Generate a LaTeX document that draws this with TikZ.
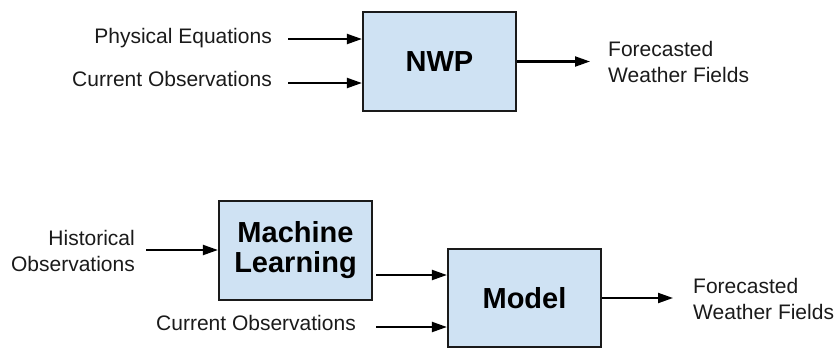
\documentclass[tikz,border=0pt]{standalone}
\usepackage{fontspec}
\setmainfont{Liberation Sans}
\usetikzlibrary{arrows.meta}
\definecolor{boxfill}{HTML}{CFE2F3}
\definecolor{ink}{HTML}{1A1A1A}
\begin{document}
\begin{tikzpicture}[x=1pt,y=-1pt,
  procbox/.style={draw=ink, line width=2.2pt, fill=boxfill, minimum width=153pt, minimum height=99pt, inner sep=0pt, align=center, font=\fontsize{29}{31}\selectfont\bfseries, text=black},
  lbl/.style={inner sep=0pt, font=\fontsize{21}{26}\selectfont, text=ink},
  conn/.style={draw=black, line width=2.1pt, -{Triangle[length=15pt,width=10pt]}}]
\useasboundingbox (0,0) rectangle (839,349);
% boxes
\node[procbox] (nwp) at (439.5,61.5) {NWP};
\node[procbox] (ml) at (295.5,250.5) {Machine\\[-1pt]Learning};
\node[procbox, minimum height=98pt] (model) at (524.5,298) {Model};
% labels
\node[lbl, anchor=base east] (pe) at (272,43) {Physical Equations};
\node[lbl, anchor=base east] (co1) at (272,86) {Current Observations};
\node[lbl, anchor=north west, align=left] (fw1) at (608,41) {Forecasted\\Weather Fields};
\node[lbl, anchor=north east, align=right] (ho) at (135,230) {Historical\\Observations};
\node[lbl, anchor=base east] (co2) at (356,330) {Current Observations};
\node[lbl, anchor=north west, align=left] (fw2) at (693,278) {Forecasted\\Weather Fields};
% connector free ends
\coordinate (s1) at (288,39);
\coordinate (s2) at (288,83);
\coordinate (e1) at (590,61.5);
\coordinate (s3) at (146,250);
\coordinate (s4) at (376,275);
\coordinate (s5) at (376,327);
\coordinate (e2) at (673,298);
% connectors
\draw[conn] (s1) -- (s1 -| nwp.west);
\draw[conn] (s2) -- (s2 -| nwp.west);
\draw[conn] (nwp.east) -- (e1);
\draw[conn] (s3) -- (s3 -| ml.west);
\draw[conn] (s4) -- (s4 -| model.west);
\draw[conn] (s5) -- (s5 -| model.west);
\draw[conn] (model.east) -- (e2);
\end{tikzpicture}
\end{document}
